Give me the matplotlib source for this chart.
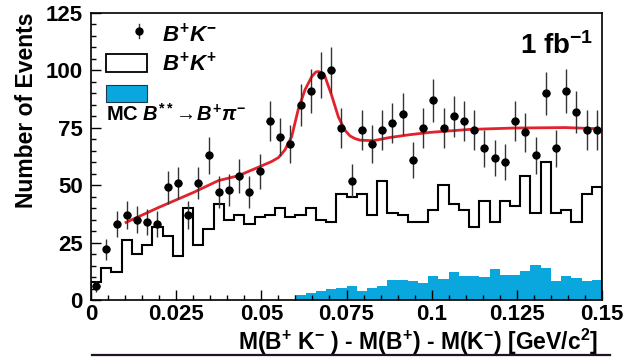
import numpy as np
import matplotlib
matplotlib.use("Agg")
import matplotlib.pyplot as plt
from matplotlib.patches import Rectangle
from matplotlib.lines import Line2D
from matplotlib.ticker import MultipleLocator

plt.rcParams["font.family"] = ["Liberation Sans", "DejaVu Sans"]
plt.rcParams["font.weight"] = "bold"
plt.rcParams["axes.labelweight"] = "bold"
plt.rcParams["mathtext.fontset"] = "custom"
plt.rcParams["mathtext.rm"] = "Liberation Sans:bold"
plt.rcParams["mathtext.bf"] = "Liberation Sans:bold"
plt.rcParams["mathtext.sf"] = "Liberation Sans:bold"
plt.rcParams["mathtext.it"] = "Liberation Sans:bold:italic"

# 50 bins of 3 MeV from 0 to 0.15 GeV/c^2
edges = np.linspace(0.0, 0.15, 51)
centers = 0.5 * (edges[:-1] + edges[1:])

# B+K- (data, right sign)
bk_minus = [6, 22, 33, 37, 35, 34, 33, 49, 51, 37,
            51, 63, 47, 48, 54, 47, 56, 78, 71, 68,
            85, 91, 98, 100, 75, 52, 74, 68, 74, 77,
            81, 61, 75, 87, 75, 80, 78, 74, 66, 62,
            60, 78, 73, 63, 90, 66, 91, 82, 74, 74]

# B+K+ (wrong sign)
bk_plus = [8, 14, 12, 26, 20, 24, 32, 28, 19, 40,
           24, 31, 42, 35, 37, 33, 36, 37, 40, 36,
           37, 40, 35, 34, 46, 45, 46, 37, 52, 38,
           37, 34, 34, 39, 50, 42, 39, 32, 43, 34,
           43, 41, 54, 38, 60, 38, 39, 34, 46, 49]

# MC B** -> B+ pi- reflection
mc_bpi = [0, 0, 0, 0, 0, 0, 0, 0, 0, 0,
          0, 0, 0, 0, 0, 0, 0, 0, 0, 0,
          2.0, 3.0, 3.8, 5.0, 5.2, 6.0, 3.9, 5.3, 6.3, 8.8,
          8.8, 8.2, 7.3, 10.4, 9.2, 12.0, 10.4, 10.4, 10.2, 13.3,
          10.9, 11.0, 12.6, 15.1, 13.8, 8.2, 10.5, 9.5, 8.1, 8.7]

# fit result
fit_x = [0.0103, 0.020, 0.030, 0.0374, 0.0432, 0.0491, 0.0530, 0.0550,
         0.0569, 0.0589, 0.0608, 0.0628, 0.0648, 0.0660, 0.0668, 0.0677,
         0.0687, 0.0706, 0.0726, 0.0745, 0.0760, 0.0775, 0.0790, 0.0829,
         0.0878, 0.0936, 0.0995, 0.1112, 0.1244, 0.1391, 0.1489]
fit_y = [33.8, 40.4, 46.8, 52.0, 54.1, 57.8, 60.3, 62.0,
         65.3, 71.1, 82.8, 91.5, 97.3, 99.3, 99.5, 99.0,
         97.3, 89.3, 79.8, 74.0, 71.5, 70.3, 69.6, 69.4,
         70.8, 72.0, 73.0, 74.3, 74.9, 75.1, 74.6]

blue = "#0aa7de"
red = "#e3222b"

fig = plt.figure(figsize=(6.36, 3.60), dpi=100)
ax = fig.add_axes([91 / 636, 60 / 360, 511 / 636, 287 / 360])

ax.stairs(mc_bpi, edges, fill=True, color=blue, lw=0)
ax.stairs(bk_plus, edges, color="black", lw=1.5)
ax.plot(fit_x, fit_y, color=red, lw=2.0, zorder=4)
ax.errorbar(centers, bk_minus, yerr=np.sqrt(bk_minus), xerr=0.0011,
            fmt="o", color="black", ms=5, ecolor="#333333", elinewidth=1.0,
            capsize=0, zorder=5)

ax.set_xlim(0, 0.15)
ax.set_ylim(0, 125)
ax.xaxis.set_minor_locator(MultipleLocator(0.005))
ax.yaxis.set_major_locator(MultipleLocator(25))
ax.yaxis.set_minor_locator(MultipleLocator(5))
ax.xaxis.set_ticks([0, 0.025, 0.05, 0.075, 0.1, 0.125, 0.15])
ax.set_xticklabels(["0", "0.025", "0.05", "0.075", "0.1", "0.125", "0.15"])
ax.tick_params(which="major", direction="in", length=7, width=1.0,
               labelsize=16, top=False, right=False)
ax.tick_params(which="minor", direction="in", length=3.5, width=1.0,
               top=False, right=False)
ax.tick_params(axis="x", pad=3)
ax.tick_params(axis="y", pad=6)
for s in ax.spines.values():
    s.set_linewidth(1.2)

ax.set_ylabel("Number of Events", fontsize=16.5, loc="top")
ax.yaxis.set_label_coords(-0.104, 1.0)
ax.set_xlabel(r"M(B$^{+}$ K$^{-}$ ) - M(B$^{+}$) - M(K$^{-}$) [GeV/c$^{2}$]",
              fontsize=16.5, loc="right")
ax.xaxis.set_label_coords(0.992, -0.095)

# legend drawn by hand
tr = ax.transAxes
ax.add_line(Line2D([0.0939, 0.0939], [0.912, 0.962], color="#333333",
                   lw=1.0, transform=tr))
ax.add_line(Line2D([0.0939], [0.937], marker="o", ms=5, color="black",
                   transform=tr))
ax.text(0.139, 0.900, r"$B^{+}K^{-}$", transform=tr, fontsize=16,
        va="baseline")
ax.add_patch(Rectangle((0.0288, 0.7955), 0.0812, 0.0615, fill=False,
                       ec="black", lw=1.3, transform=tr))
ax.text(0.139, 0.798, r"$B^{+}K^{+}$", transform=tr, fontsize=16,
        va="baseline")
ax.add_patch(Rectangle((0.0288, 0.690), 0.0812, 0.059, fc=blue,
                       ec="#1a3a4a", lw=0.8, transform=tr))
ax.text(0.0288, 0.625, r"MC $B^{**}\!\rightarrow\!B^{+}\pi^{-}$",
        transform=tr, fontsize=14.5, va="baseline")

ax.text(0.8395, 0.856, r"1 fb$^{\mathrm{-1}}$", transform=tr, fontsize=20,
        va="baseline")

# thin dark rule along the bottom of the figure
fig.add_artist(Line2D([92 / 636, 610 / 636], [5 / 360, 5 / 360],
                      color="#24102a", lw=1.6, transform=fig.transFigure))

fig.savefig("out.png", dpi=100)
